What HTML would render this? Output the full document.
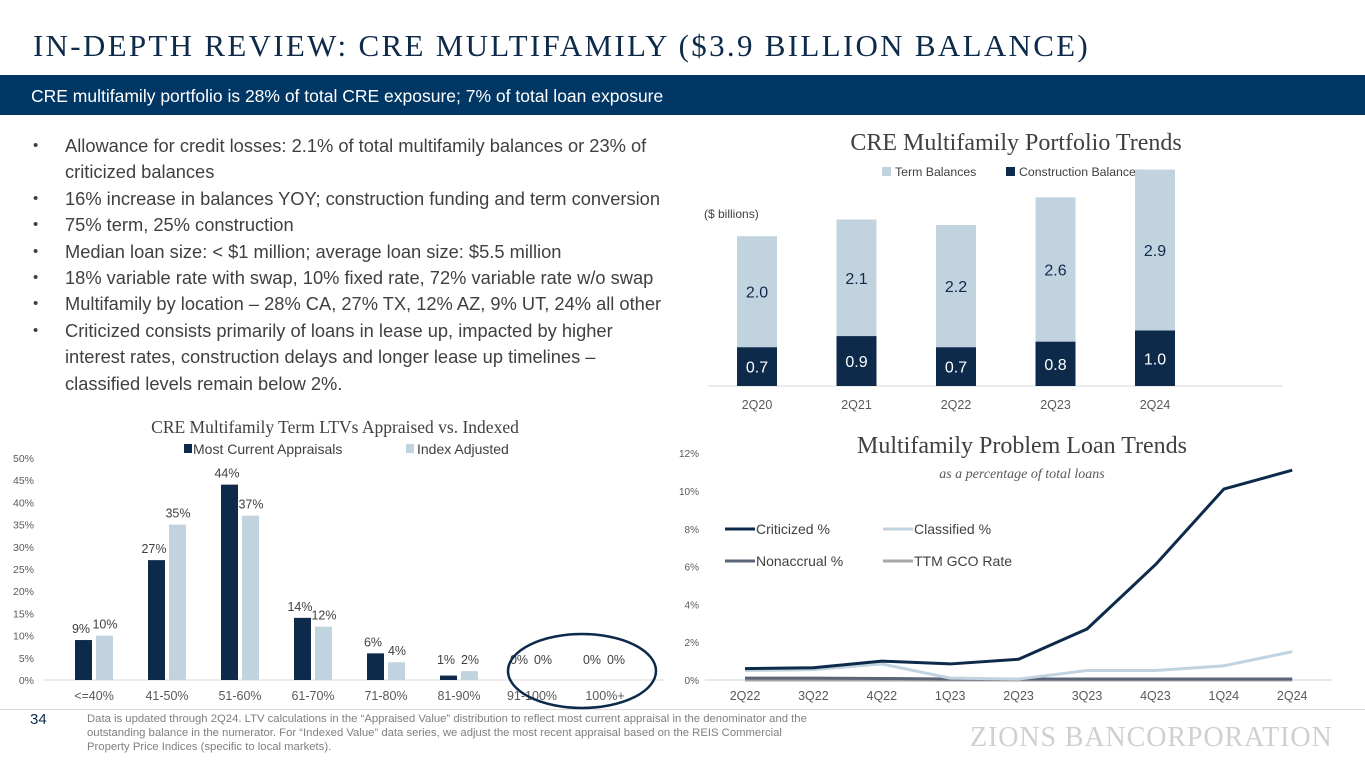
<!DOCTYPE html>
<html><head><meta charset="utf-8">
<style>
body{margin:0;width:1365px;height:768px;overflow:hidden;background:#fff;position:relative;font-family:"Liberation Sans",sans-serif}
.abs{position:absolute}
#title{left:33px;top:28px;font-family:"Liberation Serif",serif;font-size:31px;letter-spacing:2.3px;color:#0d2a4b;white-space:nowrap}
#banner{left:0;top:75px;width:1365px;height:40px;background:#003764;color:#fff;font-size:17.5px;line-height:42px;padding-left:31px;box-sizing:border-box}
ul{position:absolute;left:33px;top:133px;margin:0;padding:0;list-style:none;width:632px;font-size:18.3px;line-height:26.4px;color:#404040}
li{position:relative;padding-left:32px}
li:before{content:"•";position:absolute;left:0;font-size:15px}
#foot{left:87px;top:712px;font-size:11.3px;line-height:14px;color:#7f7f7f;width:738px}
</style></head><body>
<div id="title" class="abs">IN-DEPTH REVIEW: CRE MULTIFAMILY ($3.9 BILLION BALANCE)</div>
<div id="banner" class="abs">CRE multifamily portfolio is 28% of total CRE exposure; 7% of total loan exposure</div>
<ul>
<li>Allowance for credit losses: 2.1% of total multifamily balances or 23% of criticized balances</li>
<li>16% increase in balances YOY; construction funding and term conversion</li>
<li>75% term, 25% construction</li>
<li>Median loan size: &lt; $1 million; average loan size: $5.5 million</li>
<li>18% variable rate with swap, 10% fixed rate, 72% variable rate w/o swap</li>
<li>Multifamily by location – 28% CA, 27% TX, 12% AZ, 9% UT, 24% all other</li>
<li>Criticized consists primarily of loans in lease up, impacted by higher interest rates, construction delays and longer lease up timelines – classified levels remain below 2%.</li>
</ul>
<div class="abs" style="left:0;top:709px;width:1365px;height:1px;background:#d9d9d9"></div>
<div class="abs" style="left:30px;top:711px;font-size:15px;color:#0d2a4b">34</div>
<div id="foot" class="abs">Data is updated through 2Q24. LTV calculations in the “Appraised Value” distribution to reflect most current appraisal in the denominator and the outstanding balance in the numerator. For “Indexed Value” data series, we adjust the most recent appraisal based on the REIS Commercial Property Price Indices (specific to local markets).</div>
<div class="abs" style="left:970px;top:722px;font-family:'Liberation Serif',serif;font-size:28px;color:#d0d0d0;letter-spacing:0.9px">ZIONS BANCORPORATION</div>

<svg class="abs" style="left:0;top:0" width="1365" height="768" id="charts">
<g id="c1"></g><g id="c2"></g><g id="c3"></g>
</svg>
<script>
const NS="http://www.w3.org/2000/svg";
function mk(p,t,a,txt){const e=document.createElementNS(NS,t);for(const k in a)e.setAttribute(k,a[k]);if(txt!==undefined)e.textContent=txt;p.appendChild(e);return e;}
// Chart 1 data
const c1Cats=["2Q20","2Q21","2Q22","2Q23","2Q24"];
const c1Construction=[0.7,0.9,0.7,0.8,1.0];
const c1Term=[2.0,2.1,2.2,2.6,2.9];
// Chart 2 data
const c2Cats=["<=40%","41-50%","51-60%","61-70%","71-80%","81-90%","91-100%","100%+"];
const c2Appraised=[9,27,44,14,6,1,0,0];
const c2Indexed=[10,35,37,12,4,2,0,0];
const c2Ticks=[0,5,10,15,20,25,30,35,40,45,50];
// Chart 3 data
const c3Cats=["2Q22","3Q22","4Q22","1Q23","2Q23","3Q23","4Q23","1Q24","2Q24"];
const c3Criticized=[0.6,0.65,1.0,0.85,1.1,2.7,6.1,10.1,11.1];
const c3Classified=[0.5,0.55,0.85,0.1,0.05,0.5,0.5,0.75,1.5];
const c3Nonaccrual=[0.1,0.1,0.08,0.05,0.05,0.05,0.05,0.05,0.05];
const c3Gco=[0,0,0,0,0,0,0,0,0];
const c3Ticks=[0,2,4,6,8,10,12];

// ---- Chart 1
(function(){
const g=document.getElementById("c1");
const x=i=>757+i*99.5, y=v=>386-v*55.5, bw=40;
mk(g,"text",{x:1016,y:150,"text-anchor":"middle","font-family":"Liberation Serif, serif","font-size":24,fill:"#404040",},"CRE Multifamily Portfolio Trends");
mk(g,"rect",{x:882,y:167,width:9,height:9,fill:"#c2d3e0",});
mk(g,"text",{x:895,y:176,"font-size":12.3,fill:"#404040",},"Term Balances");
mk(g,"rect",{x:1006,y:167,width:9,height:9,fill:"#0d2a4b",});
mk(g,"text",{x:1019,y:176,"font-size":12.3,fill:"#404040",},"Construction Balances");
mk(g,"text",{x:704,y:218,"font-size":12,fill:"#404040",},"($ billions)");
mk(g,"line",{x1:708,x2:1283,y1:386,y2:386,stroke:"#d9d9d9","stroke-width":1,});
c1Cats.forEach((c,i)=>{
 const cx=x(i),con=c1Construction[i],t=c1Term[i];
 const r1=mk(g,"rect",{x:cx-bw/2,y:y(con),width:bw,height:386-y(con),fill:"#0d2a4b"});
 
 
 const r2=mk(g,"rect",{x:cx-bw/2,y:y(con+t),width:bw,height:y(con)-y(con+t),fill:"#c2d3e0"});
 
 
 const l1=mk(g,"text",{x:cx,y:(y(con)+386)/2+6,"text-anchor":"middle","font-size":16,fill:"#fff"},con.toFixed(1));
 
 
 const l2=mk(g,"text",{x:cx,y:(y(con)+y(con+t))/2+6,"text-anchor":"middle","font-size":16,fill:"#0d2a4b"},t.toFixed(1));
 
 
 const xl=mk(g,"text",{x:cx,y:409,"text-anchor":"middle","font-size":12.5,fill:"#595959"},c);
 
 
});
})();

// ---- Chart 2
(function(){
const g=document.getElementById("c2");
const x=i=>94+i*73, y=v=>680-v*4.44, bw=17;
mk(g,"text",{x:335,y:433,"text-anchor":"middle","font-family":"Liberation Serif, serif","font-size":17.5,fill:"#404040",},"CRE Multifamily Term LTVs Appraised vs. Indexed");
mk(g,"rect",{x:184,y:444,width:8,height:9,fill:"#0d2a4b",});
mk(g,"text",{x:193,y:454,"font-size":14,fill:"#404040",},"Most Current Appraisals");
mk(g,"rect",{x:406,y:444,width:8,height:9,fill:"#c2d3e0",});
mk(g,"text",{x:417,y:454,"font-size":14,fill:"#404040",},"Index Adjusted");
mk(g,"line",{x1:43,x2:665,y1:680,y2:680,stroke:"#d9d9d9",});
c2Ticks.forEach(t=>{const e=mk(g,"text",{x:34,y:y(t)+4,"text-anchor":"end","font-size":10.5,fill:"#595959"},t+"%");
 
 });
c2Cats.forEach((c,i)=>{
 const cx=x(i),a=c2Appraised[i],b=c2Indexed[i];
 const r1=mk(g,"rect",{x:cx-19,y:y(a),width:bw,height:680-y(a),fill:"#0d2a4b"});
 
 
 const r2=mk(g,"rect",{x:cx+2,y:y(b),width:bw,height:680-y(b),fill:"#c2d3e0"});
 
 
 const l1=mk(g,"text",{x:cx-13,y:Math.min(y(a)-7,664),"text-anchor":"middle","font-size":12.5,fill:"#404040"},a+"%");
 
 
 const l2=mk(g,"text",{x:cx+11,y:Math.min(y(b)-7,664),"text-anchor":"middle","font-size":12.5,fill:"#404040"},b+"%");
 
 
 const xl=mk(g,"text",{x:cx,y:700,"text-anchor":"middle","font-size":12.5,fill:"#595959"},c);
 
 
});
mk(g,"ellipse",{cx:582,cy:671,rx:74,ry:37,fill:"none",stroke:"#0d2a4b","stroke-width":2.5,});
})();

// ---- Chart 3
(function(){
const g=document.getElementById("c3");
const x=i=>745+i*68.4, y=v=>680-v*18.9;
mk(g,"text",{x:1022,y:453,"text-anchor":"middle","font-family":"Liberation Serif, serif","font-size":24,fill:"#404040",},"Multifamily Problem Loan Trends");
mk(g,"text",{x:1022,y:478,"text-anchor":"middle","font-family":"Liberation Serif, serif","font-style":"italic","font-size":14,fill:"#595959",},"as a percentage of total loans");
c3Ticks.forEach(t=>{const e=mk(g,"text",{x:699,y:y(t)+4,"text-anchor":"end","font-size":10,fill:"#595959"},t+"%");
 
 });
mk(g,"line",{x1:705,x2:1332,y1:680,y2:680,stroke:"#c2d3e0",});
c3Cats.forEach((c,i)=>{const e=mk(g,"text",{x:x(i),y:700,"text-anchor":"middle","font-size":12.5,fill:"#595959"},c);
 
 });
const series=[[c3Gco,"#a6a6a6","gco"],[c3Nonaccrual,"#5a6578","nonaccrual"],[c3Classified,"#c2d3e0","classified"],[c3Criticized,"#0d2a4b","criticized"]];
series.forEach(([d,col,n])=>{
 const p=mk(g,"polyline",{points:d.map((v,i)=>x(i)+","+y(v)).join(" "),fill:"none",stroke:col,"stroke-width":3,"stroke-linejoin":"round"});
 
 
});
const leg=[["Criticized %","#0d2a4b",725,529],["Classified %","#c2d3e0",883,529],["Nonaccrual %","#5a6578",725,561],["TTM GCO Rate","#a6a6a6",883,561]];
leg.forEach(([t,col,lx,ly])=>{
 const l=mk(g,"line",{x1:lx,x2:lx+30,y1:ly,y2:ly,stroke:col,"stroke-width":3});
 
 
 const e=mk(g,"text",{x:lx+31,y:ly+5,"font-size":14,fill:"#404040"},t);
 
 
});
})();
</script>
</body></html>
